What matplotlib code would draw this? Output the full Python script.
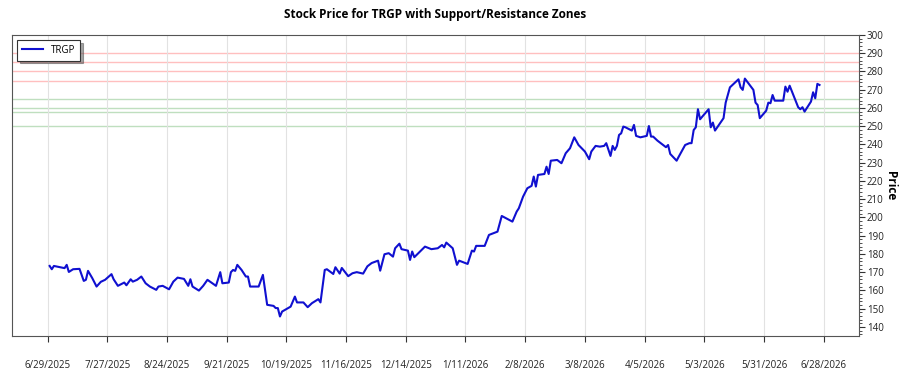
import pandas as pd
import numpy as np
import matplotlib
matplotlib.use("Agg")
import matplotlib.pyplot as plt
import matplotlib.dates as mdates
from matplotlib.ticker import MultipleLocator, FixedLocator

plt.rcParams['font.family'] = ['Open Sans', 'DejaVu Sans']

ticker = "TRGP"

# daily closes
dates = [
    "2025-06-30", "2025-07-01", "2025-07-02", "2025-07-07", "2025-07-08", "2025-07-09",
    "2025-07-11", "2025-07-14", "2025-07-16", "2025-07-17", "2025-07-18", "2025-07-20",
    "2025-07-22", "2025-07-24", "2025-07-26", "2025-07-29", "2025-07-30", "2025-08-01",
    "2025-08-04", "2025-08-05", "2025-08-07", "2025-08-08", "2025-08-10", "2025-08-12",
    "2025-08-14", "2025-08-16", "2025-08-19", "2025-08-20", "2025-08-22", "2025-08-25",
    "2025-08-27", "2025-08-29", "2025-09-01", "2025-09-03", "2025-09-04", "2025-09-05",
    "2025-09-08", "2025-09-10", "2025-09-12", "2025-09-16", "2025-09-18", "2025-09-19",
    "2025-09-22", "2025-09-23", "2025-09-24", "2025-09-25", "2025-09-26", "2025-09-28",
    "2025-09-30", "2025-10-01", "2025-10-02", "2025-10-06", "2025-10-08", "2025-10-10",
    "2025-10-13", "2025-10-14", "2025-10-15", "2025-10-16", "2025-10-17", "2025-10-21",
    "2025-10-23", "2025-10-24", "2025-10-27", "2025-10-29", "2025-10-31", "2025-11-03",
    "2025-11-04", "2025-11-06", "2025-11-07", "2025-11-10", "2025-11-11", "2025-11-13",
    "2025-11-14", "2025-11-17", "2025-11-19", "2025-11-21", "2025-11-24", "2025-11-26",
    "2025-11-28", "2025-12-01", "2025-12-02", "2025-12-04", "2025-12-06", "2025-12-08",
    "2025-12-09", "2025-12-11", "2025-12-12", "2025-12-15", "2025-12-16", "2025-12-17",
    "2025-12-18", "2025-12-23", "2025-12-26", "2025-12-29", "2025-12-31", "2026-01-01",
    "2026-01-02", "2026-01-05", "2026-01-07", "2026-01-08", "2026-01-12", "2026-01-14",
    "2026-01-15", "2026-01-16", "2026-01-20", "2026-01-22", "2026-01-26", "2026-01-28",
    "2026-02-02", "2026-02-04", "2026-02-05", "2026-02-07", "2026-02-09", "2026-02-11",
    "2026-02-12", "2026-02-13", "2026-02-14", "2026-02-17", "2026-02-18", "2026-02-19",
    "2026-02-20", "2026-02-23", "2026-02-25", "2026-02-27", "2026-03-01", "2026-03-03",
    "2026-03-05", "2026-03-08", "2026-03-10", "2026-03-11", "2026-03-13", "2026-03-15",
    "2026-03-17", "2026-03-18", "2026-03-20", "2026-03-21", "2026-03-22", "2026-03-23",
    "2026-03-24", "2026-03-25", "2026-03-26", "2026-03-27", "2026-03-30", "2026-03-31",
    "2026-04-01", "2026-04-03", "2026-04-06", "2026-04-07", "2026-04-08", "2026-04-09",
    "2026-04-11", "2026-04-15", "2026-04-16", "2026-04-17", "2026-04-20", "2026-04-21",
    "2026-04-24", "2026-04-26", "2026-04-27", "2026-04-28", "2026-04-29", "2026-04-30",
    "2026-05-01", "2026-05-02", "2026-05-05", "2026-05-06", "2026-05-07", "2026-05-08",
    "2026-05-12", "2026-05-13", "2026-05-15", "2026-05-19", "2026-05-20", "2026-05-21",
    "2026-05-22", "2026-05-26", "2026-05-27", "2026-05-28", "2026-05-29", "2026-06-01",
    "2026-06-02", "2026-06-03", "2026-06-04", "2026-06-05", "2026-06-09", "2026-06-10",
    "2026-06-11", "2026-06-12", "2026-06-16", "2026-06-17", "2026-06-18", "2026-06-19",
    "2026-06-22", "2026-06-23", "2026-06-24", "2026-06-25", "2026-06-26",
]
prices = [
    173.4, 171.6, 173.4, 172.2, 174.0, 170.1,
    171.6, 171.8, 165.2, 165.8, 170.7, 166.7,
    162.1, 164.7, 165.8, 168.9, 166.1, 162.5,
    164.3, 162.8, 166.1, 164.8, 165.8, 167.6,
    163.9, 162.1, 160.3, 162.1, 162.5, 160.6,
    164.8, 167.0, 166.3, 162.5, 166.1, 162.1,
    159.9, 162.5, 165.8, 162.5, 170.0, 163.9,
    164.3, 170.0, 171.2, 170.7, 174.0, 171.2,
    167.6, 167.6, 162.1, 162.1, 168.5, 152.1,
    151.5, 150.3, 150.3, 145.7, 148.4, 151.1,
    156.6, 153.4, 153.4, 150.8, 153.0, 155.2,
    153.4, 171.2, 171.6, 169.0, 172.7, 169.2,
    172.3, 167.8, 169.4, 170.0, 169.2, 173.2,
    175.0, 176.3, 170.8, 179.8, 180.4, 178.5,
    183.1, 185.6, 182.6, 181.8, 176.7, 181.3,
    178.2, 184.0, 182.6, 183.1, 184.9, 183.6,
    186.2, 183.1, 174.0, 176.3, 174.5, 181.8,
    181.3, 184.4, 184.4, 190.4, 192.2, 200.8,
    197.7, 203.2, 205.0, 211.4, 216.0, 217.3,
    222.4, 216.9, 223.3, 223.8, 227.8, 223.8,
    231.1, 231.5, 229.7, 235.2, 237.9, 243.9,
    239.7, 236.1, 231.9, 236.1, 239.2, 238.8,
    239.2, 240.7, 233.7, 239.2, 237.0, 239.2,
    245.2, 246.1, 249.8, 249.4, 247.6, 250.7,
    244.7, 243.9, 244.7, 250.1, 244.3, 244.3,
    242.1, 238.5, 239.7, 234.8, 231.1, 233.3,
    239.7, 240.7, 240.7, 247.9, 249.4, 259.3,
    253.8, 255.2, 259.3, 249.4, 252.0, 247.6,
    254.4, 262.9, 271.3, 275.7, 271.3, 269.9,
    276.1, 269.9, 262.9, 261.6, 254.4, 258.5,
    262.9, 262.6, 267.1, 264.0, 264.0, 271.7,
    268.9, 272.2, 260.4, 259.3, 260.4, 258.0,
    263.5, 268.6, 265.3, 273.2, 272.6,
]

resistance_levels = [290, 285, 280, 275]
support_levels = [265, 260, 258, 250]

tick_dates = ["2025-06-29", "2025-07-27", "2025-08-24", "2025-09-21", "2025-10-19",
              "2025-11-16", "2025-12-14", "2026-01-11", "2026-02-08", "2026-03-08",
              "2026-04-05", "2026-05-03", "2026-05-31", "2026-06-28"]

df = pd.DataFrame({"date": pd.to_datetime(dates), "close": prices})
ticks = pd.to_datetime(tick_dates)

fig = plt.figure(figsize=(9, 3.75), dpi=100)
ax = fig.add_axes([0.0133, 0.104, 0.9407, 0.8027])

for lvl in resistance_levels:
    ax.axhline(lvl, color="red", alpha=0.25, lw=1, zorder=1)
for lvl in support_levels:
    ax.axhline(lvl, color="green", alpha=0.25, lw=1, zorder=1)

ax.plot(df["date"], df["close"], color="#1010d0", lw=1.5, label=ticker, zorder=3)

ax.set_xlim(pd.Timestamp("2025-06-12 08:00"), pd.Timestamp("2026-07-14 08:00"))
ax.set_ylim(135, 300)

ax.xaxis.set_major_locator(FixedLocator(mdates.date2num(ticks)))
ax.set_xticklabels([f"{d.month}/{d.day}/{d.year}" for d in ticks])
ax.grid(axis="x", color="#e2e2e2", lw=0.8)
ax.tick_params(axis="x", length=4, pad=13, labelsize=7, colors="#333333", labelcolor="#222222")

ax.yaxis.tick_right()
ax.yaxis.set_label_position("right")
ax.yaxis.set_major_locator(MultipleLocator(10))
ax.yaxis.set_minor_locator(MultipleLocator(2))
ax.tick_params(axis="y", which="major", length=4, pad=2, labelsize=7, colors="#333333", labelcolor="#222222")
ax.tick_params(axis="y", which="minor", length=2, colors="#333333")
ax.set_ylabel("Price", rotation=270, fontsize=8.5, fontweight="bold", ha="center", va="center")
ax.yaxis.set_label_coords(1.0375, 0.5)

for sp in ax.spines.values():
    sp.set_color("#555555")

ax.set_title("Stock Price for TRGP with Support/Resistance Zones", fontsize=8.5,
             fontweight="bold", pad=12)

leg = ax.legend(loc="upper left", fontsize=7, fancybox=False, shadow=True,
                edgecolor="#333333", handlelength=2.2, borderpad=0.5)
leg.get_frame().set_linewidth(0.8)

fig.savefig("out.png", dpi=100)
